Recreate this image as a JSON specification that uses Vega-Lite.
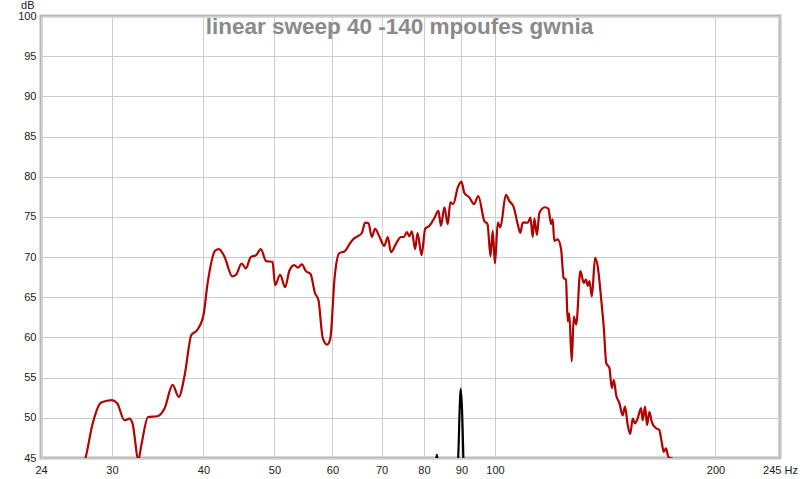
{
  "$schema": "https://vega.github.io/schema/vega-lite/v6.json",
  "width": 739,
  "height": 442,
  "autosize": {"type": "none"},
  "padding": {"left": 41, "top": 16, "right": 20, "bottom": 21},
  "background": "#ffffff",
  "title": {
    "text": "linear sweep 40 -140 mpoufes gwnia",
    "anchor": "middle",
    "frame": "group",
    "orient": "top",
    "baseline": "alphabetic",
    "offset": -17,
    "dy": 40,
    "dx": -11,
    "font": "Liberation Sans",
    "fontSize": 22.5,
    "fontWeight": "bold",
    "color": "#8a8a8a"
  },
  "config": {
    "view": {"stroke": "#b8b8b8", "strokeWidth": 3},
    "axis": {
      "labelFont": "Liberation Sans",
      "labelFontSize": 11,
      "labelColor": "#222222",
      "gridColor": "#cccccc",
      "gridWidth": 1,
      "gridOpacity": 1,
      "ticks": false,
      "domain": false
    }
  },
  "data": {
    "values": [
      {"s": "resp", "f": 27.0, "db": 43.5},
      {"s": "resp", "f": 27.6, "db": 45.0},
      {"s": "resp", "f": 28.2, "db": 49.1},
      {"s": "resp", "f": 29.0, "db": 51.9},
      {"s": "resp", "f": 30.0, "db": 52.2},
      {"s": "resp", "f": 30.5, "db": 51.8},
      {"s": "resp", "f": 31.2, "db": 49.7},
      {"s": "resp", "f": 31.7, "db": 49.9},
      {"s": "resp", "f": 32.0, "db": 49.3},
      {"s": "resp", "f": 32.6, "db": 44.8},
      {"s": "resp", "f": 32.9, "db": 46.6},
      {"s": "resp", "f": 33.6, "db": 50.1},
      {"s": "resp", "f": 34.6, "db": 50.2},
      {"s": "resp", "f": 35.4, "db": 51.2},
      {"s": "resp", "f": 36.3, "db": 54.1},
      {"s": "resp", "f": 37.0, "db": 52.6},
      {"s": "resp", "f": 37.7, "db": 55.3},
      {"s": "resp", "f": 38.5, "db": 60.3},
      {"s": "resp", "f": 39.2, "db": 60.9},
      {"s": "resp", "f": 40.0, "db": 62.8},
      {"s": "resp", "f": 40.5, "db": 66.6},
      {"s": "resp", "f": 41.5, "db": 70.8},
      {"s": "resp", "f": 42.0, "db": 71.0},
      {"s": "resp", "f": 42.7, "db": 70.1},
      {"s": "resp", "f": 43.8, "db": 67.6},
      {"s": "resp", "f": 44.3, "db": 67.8},
      {"s": "resp", "f": 45.1, "db": 69.2},
      {"s": "resp", "f": 45.7, "db": 68.6},
      {"s": "resp", "f": 46.4, "db": 70.0},
      {"s": "resp", "f": 47.2, "db": 70.25},
      {"s": "resp", "f": 47.9, "db": 71.0},
      {"s": "resp", "f": 48.7, "db": 69.5},
      {"s": "resp", "f": 49.7, "db": 69.4},
      {"s": "resp", "f": 50.1, "db": 66.5},
      {"s": "resp", "f": 50.9, "db": 67.8},
      {"s": "resp", "f": 51.7, "db": 66.25},
      {"s": "resp", "f": 52.4, "db": 68.3},
      {"s": "resp", "f": 53.2, "db": 69.0},
      {"s": "resp", "f": 53.8, "db": 68.7},
      {"s": "resp", "f": 54.5, "db": 69.1},
      {"s": "resp", "f": 55.2, "db": 68.25},
      {"s": "resp", "f": 56.0, "db": 67.9},
      {"s": "resp", "f": 56.8, "db": 65.5},
      {"s": "resp", "f": 57.4, "db": 64.7},
      {"s": "resp", "f": 58.2, "db": 59.9},
      {"s": "resp", "f": 59.0, "db": 59.1},
      {"s": "resp", "f": 59.6, "db": 59.9},
      {"s": "resp", "f": 60.4, "db": 67.4},
      {"s": "resp", "f": 61.3, "db": 70.5},
      {"s": "resp", "f": 62.3, "db": 70.7},
      {"s": "resp", "f": 63.5, "db": 71.8},
      {"s": "resp", "f": 64.0, "db": 72.2},
      {"s": "resp", "f": 65.0, "db": 72.6},
      {"s": "resp", "f": 65.8, "db": 73.0},
      {"s": "resp", "f": 66.5, "db": 74.3},
      {"s": "resp", "f": 67.2, "db": 74.2},
      {"s": "resp", "f": 67.9, "db": 72.5},
      {"s": "resp", "f": 68.6, "db": 73.5},
      {"s": "resp", "f": 69.5, "db": 72.6},
      {"s": "resp", "f": 70.6, "db": 71.4},
      {"s": "resp", "f": 71.4, "db": 72.5},
      {"s": "resp", "f": 72.1, "db": 70.6},
      {"s": "resp", "f": 73.3, "db": 71.7},
      {"s": "resp", "f": 74.4, "db": 72.5},
      {"s": "resp", "f": 75.1, "db": 72.5},
      {"s": "resp", "f": 75.8, "db": 73.1},
      {"s": "resp", "f": 76.4, "db": 72.6},
      {"s": "resp", "f": 77.0, "db": 73.2},
      {"s": "resp", "f": 77.8, "db": 71.0},
      {"s": "resp", "f": 78.4, "db": 73.0},
      {"s": "resp", "f": 79.4, "db": 70.25},
      {"s": "resp", "f": 80.3, "db": 73.5},
      {"s": "resp", "f": 81.4, "db": 73.9},
      {"s": "resp", "f": 82.7, "db": 74.9},
      {"s": "resp", "f": 83.7, "db": 75.75},
      {"s": "resp", "f": 84.4, "db": 73.9},
      {"s": "resp", "f": 85.3, "db": 76.2},
      {"s": "resp", "f": 86.2, "db": 74.1},
      {"s": "resp", "f": 86.9, "db": 76.8},
      {"s": "resp", "f": 87.7, "db": 76.6},
      {"s": "resp", "f": 89.0, "db": 78.7},
      {"s": "resp", "f": 90.0, "db": 79.4},
      {"s": "resp", "f": 90.8, "db": 78.0},
      {"s": "resp", "f": 92.3, "db": 77.4},
      {"s": "resp", "f": 93.6, "db": 76.6},
      {"s": "resp", "f": 94.9, "db": 77.6},
      {"s": "resp", "f": 96.7, "db": 74.5},
      {"s": "resp", "f": 97.7, "db": 74.1},
      {"s": "resp", "f": 98.6, "db": 70.1},
      {"s": "resp", "f": 99.3, "db": 73.25},
      {"s": "resp", "f": 100.0, "db": 69.2},
      {"s": "resp", "f": 100.9, "db": 74.3},
      {"s": "resp", "f": 101.7, "db": 73.7},
      {"s": "resp", "f": 103.5, "db": 77.75},
      {"s": "resp", "f": 104.6, "db": 77.0},
      {"s": "resp", "f": 106.1, "db": 76.2},
      {"s": "resp", "f": 107.4, "db": 74.1},
      {"s": "resp", "f": 108.3, "db": 73.0},
      {"s": "resp", "f": 109.1, "db": 74.3},
      {"s": "resp", "f": 110.9, "db": 74.3},
      {"s": "resp", "f": 111.8, "db": 74.9},
      {"s": "resp", "f": 112.6, "db": 72.5},
      {"s": "resp", "f": 113.2, "db": 74.8},
      {"s": "resp", "f": 114.1, "db": 72.75},
      {"s": "resp", "f": 115.0, "db": 75.5},
      {"s": "resp", "f": 117.0, "db": 76.2},
      {"s": "resp", "f": 118.3, "db": 76.0},
      {"s": "resp", "f": 119.3, "db": 74.1},
      {"s": "resp", "f": 119.9, "db": 74.7},
      {"s": "resp", "f": 120.5, "db": 72.0},
      {"s": "resp", "f": 121.8, "db": 72.2},
      {"s": "resp", "f": 123.1, "db": 71.0},
      {"s": "resp", "f": 124.1, "db": 67.4},
      {"s": "resp", "f": 125.0, "db": 67.2},
      {"s": "resp", "f": 125.7, "db": 62.0},
      {"s": "resp", "f": 126.3, "db": 63.0},
      {"s": "resp", "f": 127.3, "db": 57.0},
      {"s": "resp", "f": 128.1, "db": 62.6},
      {"s": "resp", "f": 129.1, "db": 61.6},
      {"s": "resp", "f": 130.8, "db": 68.25},
      {"s": "resp", "f": 132.2, "db": 66.8},
      {"s": "resp", "f": 133.1, "db": 67.2},
      {"s": "resp", "f": 133.9, "db": 66.4},
      {"s": "resp", "f": 134.6, "db": 67.0},
      {"s": "resp", "f": 135.6, "db": 65.1},
      {"s": "resp", "f": 137.0, "db": 69.9},
      {"s": "resp", "f": 138.2, "db": 68.7},
      {"s": "resp", "f": 139.6, "db": 64.9},
      {"s": "resp", "f": 140.8, "db": 61.2},
      {"s": "resp", "f": 141.9, "db": 56.8},
      {"s": "resp", "f": 143.3, "db": 56.2},
      {"s": "resp", "f": 144.4, "db": 53.7},
      {"s": "resp", "f": 145.3, "db": 54.7},
      {"s": "resp", "f": 146.4, "db": 52.8},
      {"s": "resp", "f": 147.9, "db": 51.8},
      {"s": "resp", "f": 149.4, "db": 50.3},
      {"s": "resp", "f": 150.5, "db": 51.4},
      {"s": "resp", "f": 151.8, "db": 49.1},
      {"s": "resp", "f": 153.0, "db": 48.0},
      {"s": "resp", "f": 154.2, "db": 49.9},
      {"s": "resp", "f": 155.3, "db": 49.3},
      {"s": "resp", "f": 156.6, "db": 49.9},
      {"s": "resp", "f": 158.3, "db": 51.2},
      {"s": "resp", "f": 159.1, "db": 49.7},
      {"s": "resp", "f": 160.3, "db": 51.4},
      {"s": "resp", "f": 161.3, "db": 49.1},
      {"s": "resp", "f": 162.5, "db": 50.75},
      {"s": "resp", "f": 163.7, "db": 49.5},
      {"s": "resp", "f": 165.9, "db": 48.7},
      {"s": "resp", "f": 167.6, "db": 48.5},
      {"s": "resp", "f": 168.9, "db": 47.0},
      {"s": "resp", "f": 170.0, "db": 45.75},
      {"s": "resp", "f": 171.2, "db": 46.2},
      {"s": "resp", "f": 172.5, "db": 45.1},
      {"s": "resp", "f": 174.9, "db": 44.9},
      {"s": "resp", "f": 176.0, "db": 44.0},
      {"s": "ref", "f": 82.9, "db": 44.0},
      {"s": "ref", "f": 83.3, "db": 45.4},
      {"s": "ref", "f": 83.7, "db": 44.0},
      {"s": "ref", "f": 88.9, "db": 44.0},
      {"s": "ref", "f": 89.8, "db": 53.6},
      {"s": "ref", "f": 90.6, "db": 44.0}
    ]
  },
  "mark": {"type": "line", "clip": true, "strokeWidth": 2.2, "interpolate": "monotone"},
  "encoding": {
    "x": {
      "field": "f",
      "type": "quantitative",
      "scale": {"type": "log", "domain": [24, 245], "nice": false, "zero": false},
      "axis": {
        "title": null,
        "values": [24, 30, 40, 50, 60, 70, 80, 90, 100, 200, 245],
        "labelExpr": "datum.value == 245 ? '245 Hz' : datum.label",
        "format": "d",
        "labelPadding": 6,
        "labelAlign": "center",
        "labelFlush": false,
        "labelOverlap": false
      }
    },
    "y": {
      "field": "db",
      "type": "quantitative",
      "scale": {"domain": [45, 100], "nice": false, "zero": false},
      "axis": {
        "title": "dB",
        "titleAngle": 0,
        "titleAlign": "right",
        "titleBaseline": "alphabetic",
        "titleX": -7,
        "titleY": -8,
        "titleFont": "Liberation Sans",
        "titleFontSize": 11,
        "titleFontWeight": "normal",
        "titleColor": "#222222",
        "values": [45, 50, 55, 60, 65, 70, 75, 80, 85, 90, 95, 100],
        "labelPadding": 5
      }
    },
    "color": {
      "field": "s",
      "type": "nominal",
      "scale": {"domain": ["resp", "ref"], "range": ["#b00000", "#000000"]},
      "legend": null
    },
    "order": {"field": "f", "type": "quantitative"}
  }
}
